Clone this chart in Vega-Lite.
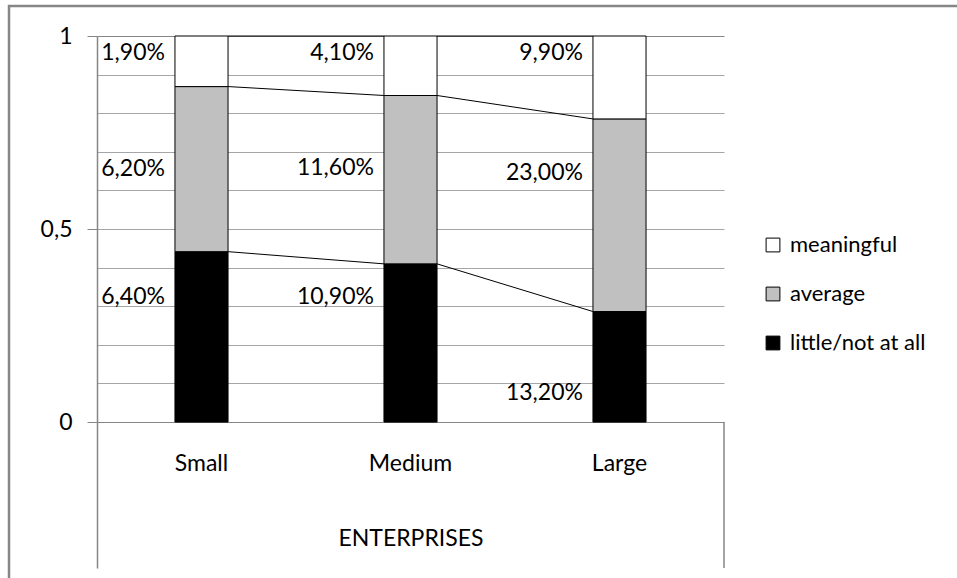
{
  "$schema": "https://vega.github.io/schema/vega-lite/v6.json",
  "width": 960,
  "height": 580,
  "autosize": "none",
  "padding": {"left": 9, "top": 6, "right": 0, "bottom": 0},
  "background": "white",
  "config": {
    "view": {"stroke": "#868686", "strokeWidth": 2.5},
    "font": "Lato",
    "text": {"font": "Lato"}
  },
  "datasets": {
    "bars": [
      {"size": "Small", "level": "little/not at all", "ord": 1, "value": 6.4, "label": "6,40%", "label_y": 0.324},
      {"size": "Small", "level": "average", "ord": 2, "value": 6.2, "label": "6,20%", "label_y": 0.655},
      {"size": "Small", "level": "meaningful", "ord": 3, "value": 1.9, "label": "1,90%", "label_y": 0.955},
      {"size": "Medium", "level": "little/not at all", "ord": 1, "value": 10.9, "label": "10,90%", "label_y": 0.324},
      {"size": "Medium", "level": "average", "ord": 2, "value": 11.6, "label": "11,60%", "label_y": 0.658},
      {"size": "Medium", "level": "meaningful", "ord": 3, "value": 4.1, "label": "4,10%", "label_y": 0.955},
      {"size": "Large", "level": "little/not at all", "ord": 1, "value": 13.2, "label": "13,20%", "label_y": 0.075},
      {"size": "Large", "level": "average", "ord": 2, "value": 23.0, "label": "23,00%", "label_y": 0.645},
      {"size": "Large", "level": "meaningful", "ord": 3, "value": 9.9, "label": "9,90%", "label_y": 0.955}
    ],
    "links": [
      {"from": "Small", "to": "Medium", "y_from": 0.4414, "y_to": 0.4098},
      {"from": "Small", "to": "Medium", "y_from": 0.869, "y_to": 0.8459},
      {"from": "Small", "to": "Medium", "y_from": 1, "y_to": 1},
      {"from": "Medium", "to": "Large", "y_from": 0.4098, "y_to": 0.2863},
      {"from": "Medium", "to": "Large", "y_from": 0.8459, "y_to": 0.7852},
      {"from": "Medium", "to": "Large", "y_from": 1, "y_to": 1}
    ]
  },
  "layer": [
    {
      "data": {"name": "bars"},
      "mark": {"type": "bar", "width": {"band": 0.254}, "stroke": "black", "strokeWidth": 1},
      "encoding": {
        "x": {
          "field": "size",
          "type": "nominal",
          "sort": ["Small", "Medium", "Large"],
          "scale": {"domain": ["Small", "Medium", "Large"], "range": [88, 715], "paddingInner": 0, "paddingOuter": 0},
          "axis": {
            "title": "ENTERPRISES",
            "offset": -164,
            "domain": false,
            "ticks": false,
            "labelAngle": 0,
            "labelFont": "Lato",
            "labelFontSize": 23,
            "labelColor": "black",
            "labelPadding": 30,
            "titleFont": "Lato",
            "titleFontSize": 23,
            "titleFontWeight": "normal",
            "titleColor": "black",
            "titlePadding": 52,
            "grid": false
          }
        },
        "y": {
          "field": "value",
          "type": "quantitative",
          "stack": "normalize",
          "scale": {"domain": [-0.378, 1], "range": [562, 30], "nice": false, "zero": false},
          "axis": {
            "title": null,
            "values": [0, 0.1, 0.2, 0.3, 0.4, 0.5, 0.6, 0.7, 0.8, 0.9, 1],
            "offset": -88,
            "labelExpr": "datum.value == 0 ? '0' : datum.value == 0.5 ? '0,5' : datum.value == 1 ? '1' : ''",
            "labelFont": "Lato",
            "labelFontSize": 23,
            "labelColor": "black",
            "labelPadding": 15,
            "tickSize": 10,
            "tickColor": "#868686",
            "tickOpacity": {"condition": {"test": "datum.value == 0 || datum.value == 0.5 || datum.value == 1", "value": 1}, "value": 0},
            "domainColor": "#868686",
            "domainWidth": 1.5,
            "grid": true,
            "gridColor": {"condition": {"test": "datum.value == 0 || datum.value == 1", "value": "#868686"}, "value": "#a6a6a6"},
            "gridWidth": 1
          }
        },
        "order": {"field": "ord", "type": "quantitative"},
        "color": {
          "field": "level",
          "type": "nominal",
          "scale": {"domain": ["meaningful", "average", "little/not at all"], "range": ["#ffffff", "#c0c0c0", "#000000"]},
          "legend": {
            "orient": "none",
            "legendX": 753,
            "legendY": 228,
            "title": null,
            "symbolType": "square",
            "symbolSize": 190,
            "symbolStrokeColor": "black",
            "symbolStrokeWidth": 1,
            "labelFont": "Lato",
            "labelFontSize": 22,
            "labelColor": "black",
            "labelOffset": 6,
            "rowPadding": 27
          }
        }
      }
    },
    {
      "data": {"name": "links"},
      "mark": {"type": "rule", "color": "black", "strokeWidth": 1},
      "encoding": {
        "x": {"field": "from", "type": "nominal", "bandPosition": 0.627},
        "x2": {"field": "to", "bandPosition": 0.373},
        "y": {"field": "y_from", "type": "quantitative"},
        "y2": {"field": "y_to"}
      }
    },
    {
      "data": {"name": "bars"},
      "mark": {"type": "text", "align": "right", "baseline": "middle", "dx": -10, "font": "Lato", "fontSize": 23, "color": "black"},
      "encoding": {
        "x": {"field": "size", "type": "nominal", "bandPosition": 0.373},
        "y": {"field": "label_y", "type": "quantitative"},
        "text": {"field": "label"}
      }
    },
    {
      "data": {"values": [{}]},
      "mark": {"type": "rule", "color": "#868686", "strokeWidth": 1.5},
      "encoding": {
        "x": {"datum": "Large", "bandPosition": 1},
        "y": {"datum": 0},
        "y2": {"datum": -0.378}
      }
    }
  ]
}
